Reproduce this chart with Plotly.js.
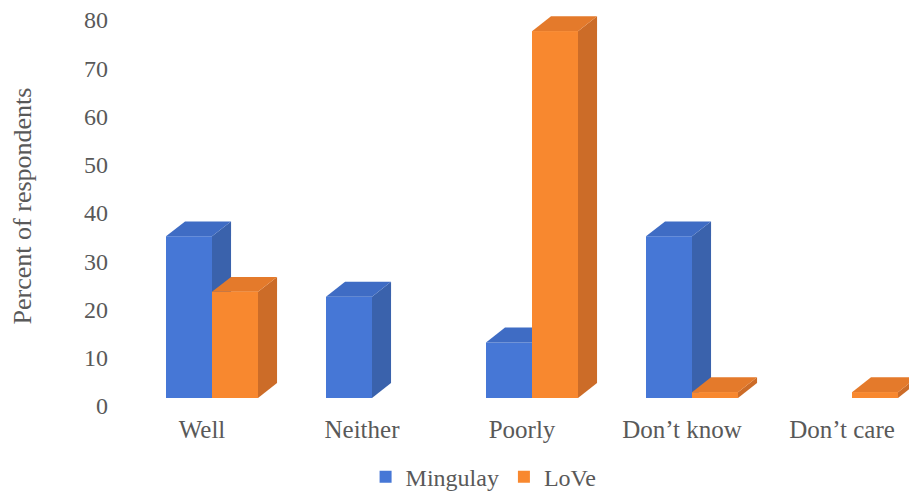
<!DOCTYPE html>
<html>
<head>
<meta charset="utf-8">
<script src="https://cdn.plot.ly/plotly-3.0.1.min.js"></script>
<style>html,body{margin:0;padding:0;background:#fff;}#chart{width:909px;height:492px;}</style>
</head>
<body>
<div id="chart"></div>
<script>
// ---- data ----
const categories = ["Well", "Neither", "Poorly", "Don\u2019t know", "Don\u2019t care"];
const mingulay = [33.5, 21, 11.5, 33.5, 0];
const love = [22, 0, 76, 1.2, 1.2];
const seriesNames = ["Mingulay", "LoVe"];
const yTicks = [0, 10, 20, 30, 40, 50, 60, 70, 80];

// ---- style ----
const FONT = "Liberation Serif";
const GRAY = "#595959";
const W = 0.2875;      // bar width (x units)
const DX = 0.119;      // depth offset (x units)
const DY = 3.1;        // depth offset (y units)
const colors = {
  Mingulay: {front: "#4677D6", top: "#3F6CC4", side: "#3A62AC"},
  LoVe: {front: "#F8882F", top: "#E47A2B", side: "#CC6C28"}
};
const xs = categories.map((c, i) => i);

function poly(xsArr, ysArr, color) {
  return {type: "scatter", mode: "lines", x: xsArr, y: ysArr, fill: "toself",
          fillcolor: color, line: {width: 0, color: color}, showlegend: false,
          hoverinfo: "skip"};
}
function faces(vals, offset, col, includeFront) {
  const out = [];
  vals.forEach((v, i) => {
    if (!v) return;
    const x0 = xs[i] + offset, x1 = x0 + W;
    out.push(poly([x1, x1 + DX, x1 + DX, x1, x1], [0, DY, v + DY, v, 0], col.side));
    out.push(poly([x0, x0 + DX, x1 + DX, x1, x0], [v, v + DY, v + DY, v, v], col.top));
    if (includeFront) out.push(poly([x0, x1, x1, x0, x0], [0, 0, v, v, 0], col.front));
  });
  return out;
}

const traces = [
  {type: "bar", name: seriesNames[0], x: xs, y: mingulay, width: W, offset: -W,
   marker: {color: colors.Mingulay.front, line: {width: 0}}},
  {type: "bar", name: seriesNames[1], x: xs, y: love, width: W, offset: 0,
   marker: {color: colors.LoVe.front, line: {width: 0}}},
  ...faces(mingulay, -W, colors.Mingulay, false),
  ...faces(love, 0, colors.LoVe, true)
];

const layout = {
  width: 909, height: 492,
  margin: {l: 115, r: 0, t: 0, b: 80},
  paper_bgcolor: "#fff", plot_bgcolor: "#fff",
  barmode: "overlay",
  font: {family: FONT, size: 24, color: GRAY},
  xaxis: {range: [-0.60625, 4.35625], tickvals: xs, ticktext: categories,
          showgrid: false, zeroline: false, showline: false, ticks: "",
          ticklabelshift: -10, ticklabelstandoff: 0, fixedrange: true,
          tickfont: {family: FONT, size: 25, color: GRAY}},
  yaxis: {range: [-2.9, 82.49], tickvals: yTicks, showgrid: false, zeroline: false,
          showline: false, ticks: "", ticklabelshift: 8, ticklabelstandoff: 6,
          tickfont: {family: FONT, size: 24, color: GRAY},
          title: {text: "Percent of respondents", standoff: 44,
                  font: {family: FONT, size: 26, color: GRAY}}},
  showlegend: true,
  legend: {orientation: "h", xref: "container", yref: "container",
           x: 0.532, xanchor: "center", y: 0.03, yanchor: "middle",
           font: {family: FONT, size: 24, color: GRAY}, itemwidth: 30,
           traceorder: "normal"}
};

Plotly.newPlot("chart", traces, layout, {displayModeBar: false, staticPlot: true});
</script>
</body>
</html>
